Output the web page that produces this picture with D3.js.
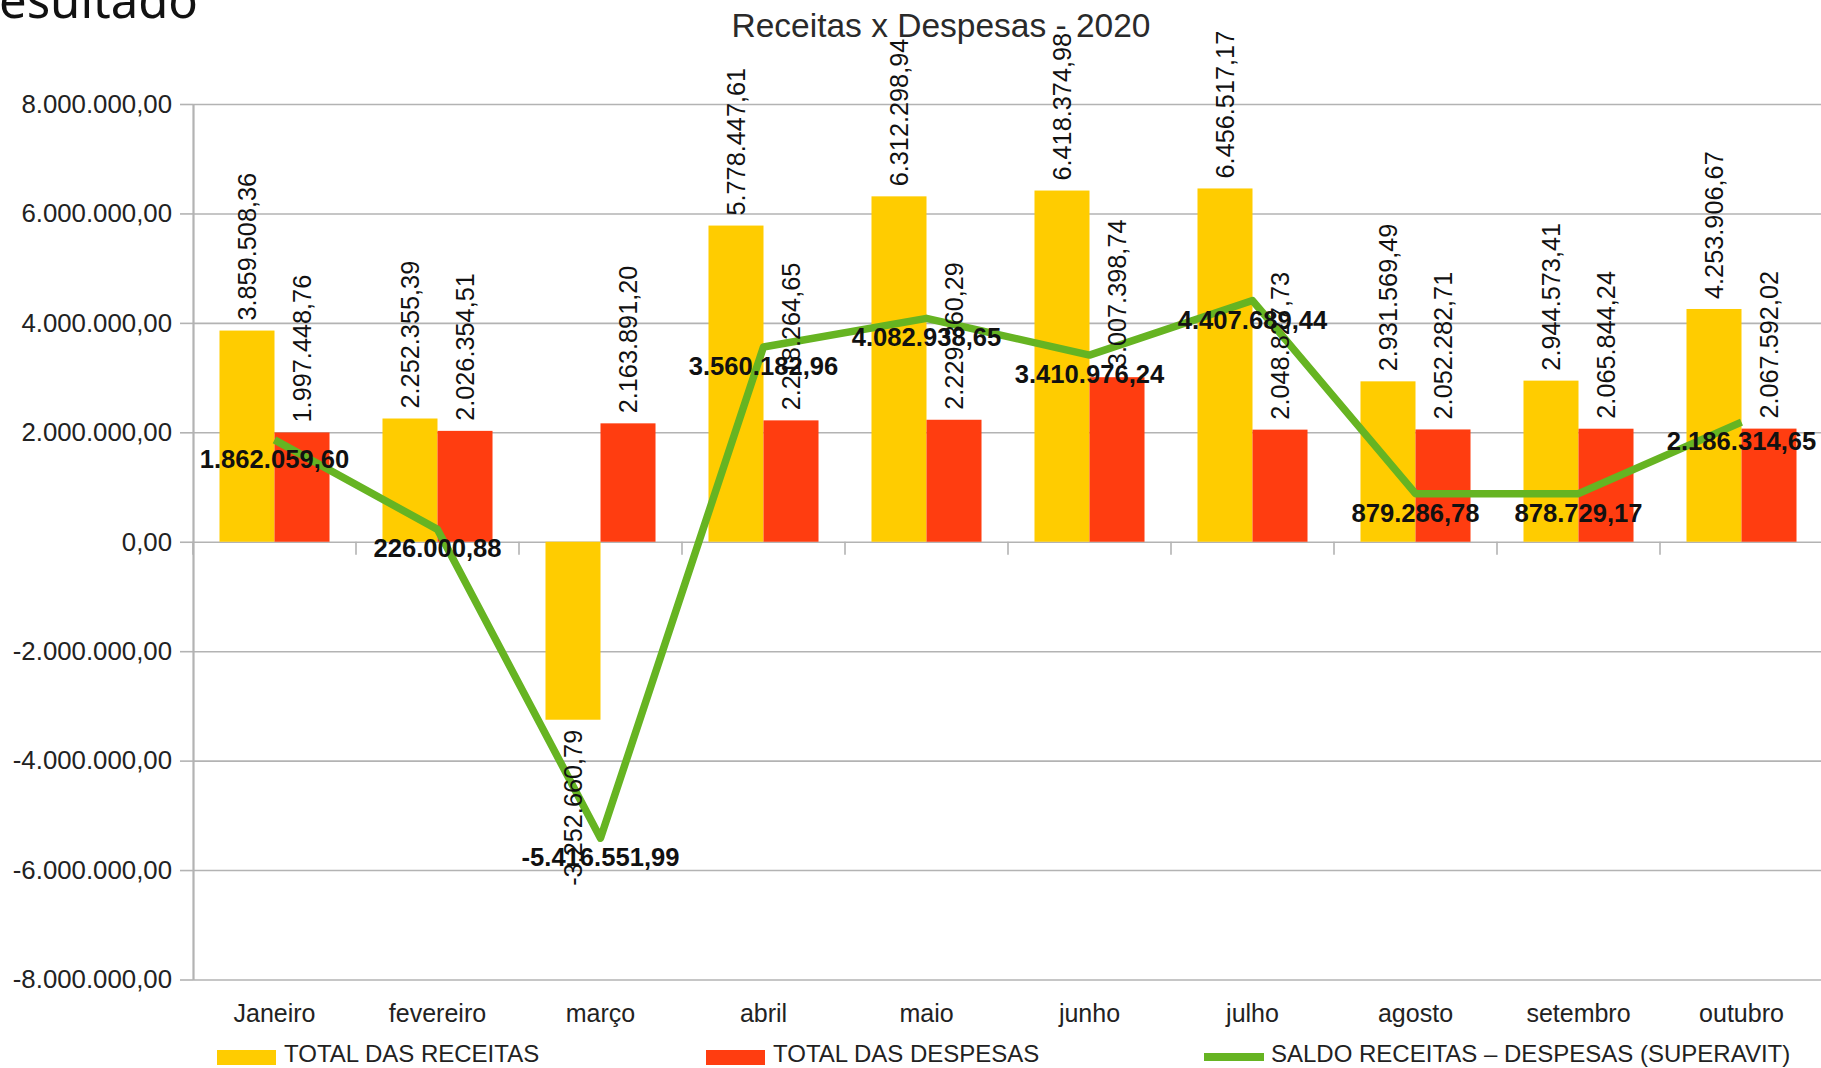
<!DOCTYPE html>
<html>
<head>
<meta charset="utf-8">
<script src="https://cdn.jsdelivr.net/npm/d3@7"></script>
<style>
  html, body { margin: 0; padding: 0; background: #fff; overflow: hidden; }
  svg { display: block; font-family: "Liberation Sans", Arial, sans-serif; }
</style>
</head>
<body>
<svg id="chart" width="1821" height="1068"></svg>
<script>
const months = ["Janeiro", "fevereiro", "março", "abril", "maio", "junho", "julho", "agosto", "setembro", "outubro"];
const receitas = [3859508.36, 2252355.39, -3252660.79, 5778447.61, 6312298.94, 6418374.98, 6456517.17, 2931569.49, 2944573.41, 4253906.67];
const despesas = [1997448.76, 2026354.51, 2163891.20, 2218264.65, 2229360.29, 3007398.74, 2048827.73, 2052282.71, 2065844.24, 2067592.02];
const saldo = [1862059.60, 226000.88, -5416551.99, 3560182.96, 4082938.65, 3410976.24, 4407689.44, 879286.78, 878729.17, 2186314.65];
const yTicks = [-8000000, -6000000, -4000000, -2000000, 0, 2000000, 4000000, 6000000, 8000000];
const seriesNames = ["TOTAL DAS RECEITAS", "TOTAL DAS DESPESAS", "SALDO RECEITAS – DESPESAS (SUPERAVIT)"];
const titleText = "Receitas x Despesas - 2020";
const slideTitle = "Resultado";

const colors = { rec: "#ffcc00", desp: "#ff3d10", saldo: "#66b422", grid: "#b3b3b3" };

const locale = d3.formatLocale({ decimal: ",", thousands: ".", grouping: [3], currency: ["R$", ""], minus: "-" });
const fmt = locale.format(",.2f");

const svg = d3.select("#chart");
const plotLeft = 193, plotRight = 1823, plotTop = 104, plotBottom = 979.5;

const y = d3.scaleLinear().domain([-8000000, 8000000]).range([plotBottom, plotTop]);
const x0 = d3.scaleBand().domain(months).range([plotLeft, plotRight]).paddingInner(0.325).paddingOuter(0.1625);
const x1 = d3.scaleBand().domain(["rec", "desp"]).range([0, x0.bandwidth()]);
const cx = m => x0(m) + x0.bandwidth() / 2;
const gapHalf = (x0.step() - x0.bandwidth()) / 2;

// slide title fragment (cropped at the top, as in the source)
svg.append("text").attr("x", 198).attr("y", 18).attr("text-anchor", "end")
  .attr("font-family", "'Noto Sans', 'Open Sans', sans-serif").attr("font-size", 49).attr("fill", "#111")
  .text(slideTitle);

// chart title
svg.append("text").attr("x", 941).attr("y", 37).attr("text-anchor", "middle")
  .attr("font-size", 33.5).attr("fill", "#2a2a2a").text(titleText);

// gridlines
const grid = svg.append("g").attr("transform", `translate(${plotLeft},0)`)
  .call(d3.axisLeft(y).tickValues(yTicks).tickSize(-(plotRight - plotLeft)).tickFormat(""));
grid.select(".domain").remove();
grid.selectAll("line").attr("stroke", colors.grid).attr("stroke-width", 1.6);

// y axis
const yAxis = svg.append("g").attr("transform", `translate(${plotLeft},0)`)
  .call(d3.axisLeft(y).tickValues(yTicks).tickSize(13).tickPadding(8).tickFormat(fmt).tickSizeOuter(0));
yAxis.select(".domain").attr("stroke", colors.grid).attr("stroke-width", 2.2);
yAxis.selectAll(".tick line").attr("stroke", colors.grid).attr("stroke-width", 1.6);
yAxis.selectAll(".tick text").attr("font-size", 25.8).attr("fill", "#222")
  .attr("font-family", "'Liberation Sans', Arial, sans-serif");

// category boundary ticks on zero line
svg.append("g").selectAll("line").data(months).join("line")
  .attr("x1", m => x0(m) - gapHalf).attr("x2", m => x0(m) - gapHalf)
  .attr("y1", y(0)).attr("y2", y(0) + 13)
  .attr("stroke", colors.grid).attr("stroke-width", 1.6);

// bars
const groups = svg.append("g").selectAll("g").data(months).join("g")
  .attr("transform", m => `translate(${x0(m)},0)`);
groups.append("rect")
  .attr("x", x1("rec")).attr("width", x1.bandwidth())
  .attr("y", (m, i) => y(Math.max(0, receitas[i])))
  .attr("height", (m, i) => Math.abs(y(receitas[i]) - y(0)))
  .attr("fill", colors.rec);
groups.append("rect")
  .attr("x", x1("desp")).attr("width", x1.bandwidth())
  .attr("y", (m, i) => y(Math.max(0, despesas[i])))
  .attr("height", (m, i) => Math.abs(y(despesas[i]) - y(0)))
  .attr("fill", colors.desp);

// saldo line
const line = d3.line().x((d, i) => cx(months[i])).y(d => y(d));
svg.append("path").datum(saldo).attr("d", line)
  .attr("fill", "none").attr("stroke", colors.saldo).attr("stroke-width", 7.5)
  .attr("stroke-linejoin", "round");

// bar labels (rotated)
function barLabel(series, key) {
  svg.append("g").selectAll("text").data(series).join("text")
    .attr("transform", (d, i) => {
      const bx = x0(months[i]) + x1(key) + x1.bandwidth() / 2;
      const by = d >= 0 ? y(d) - 10 : y(d) + 10;
      return `translate(${bx},${by}) rotate(-90)`;
    })
    .attr("text-anchor", d => d >= 0 ? "start" : "end")
    .attr("dy", "0.35em")
    .attr("font-size", 25.3).attr("fill", "#111")
    .text(d => fmt(d));
}
barLabel(receitas, "rec");
barLabel(despesas, "desp");

// saldo labels
svg.append("g").selectAll("text").data(saldo).join("text")
  .attr("x", (d, i) => cx(months[i]))
  .attr("y", d => y(d) + 28)
  .attr("text-anchor", "middle")
  .attr("font-size", 25.6).attr("font-weight", "bold").attr("fill", "#111")
  .text(d => fmt(d));

// x category labels
svg.append("g").selectAll("text").data(months).join("text")
  .attr("x", m => cx(m)).attr("y", 1022)
  .attr("text-anchor", "middle").attr("font-size", 25).attr("fill", "#222")
  .text(m => m);

// legend
const legendItems = [
  { name: seriesNames[0], color: colors.rec, type: "rect", x: 217 },
  { name: seriesNames[1], color: colors.desp, type: "rect", x: 706 },
  { name: seriesNames[2], color: colors.saldo, type: "line", x: 1204 }
];
const lg = svg.append("g").selectAll("g").data(legendItems).join("g");
lg.filter(d => d.type === "rect").append("rect")
  .attr("x", d => d.x).attr("y", 1050).attr("width", 59).attr("height", 15).attr("fill", d => d.color);
lg.filter(d => d.type === "line").append("rect")
  .attr("x", d => d.x).attr("y", 1053).attr("width", 60).attr("height", 8).attr("fill", d => d.color);
lg.append("text").attr("x", d => d.x + 67).attr("y", 1062)
  .attr("font-size", 24).attr("fill", "#222").text(d => d.name);
</script>
</body>
</html>
